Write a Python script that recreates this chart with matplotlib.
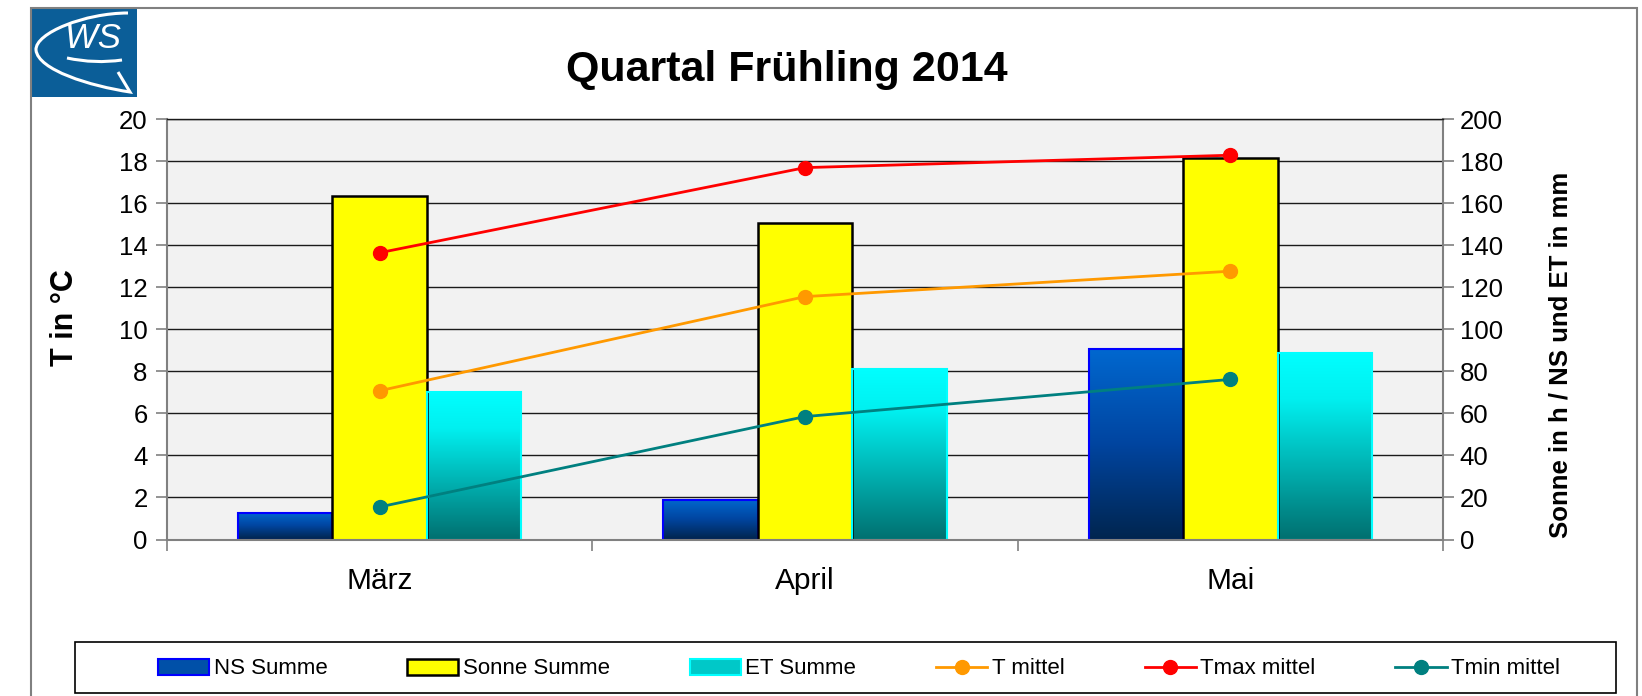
import numpy as np
import matplotlib
matplotlib.use('Agg')
import matplotlib.pyplot as plt
from matplotlib.colors import LinearSegmentedColormap
from matplotlib.patches import Rectangle, Patch, PathPatch
from matplotlib.path import Path

plt.rcParams['font.family'] = ['Liberation Sans', 'DejaVu Sans']

# data
months = ['März', 'April', 'Mai']
ns_summe = [12.8, 18.8, 90.5]        # mm
sonne_summe = [163.5, 150.6, 181.4]  # h
et_summe = [70.3, 81.0, 88.6]        # mm
t_mittel = [7.08, 11.56, 12.77]
tmax_mittel = [13.65, 17.7, 18.29]
tmin_mittel = [1.55, 5.85, 7.62]

W, H = 1642, 696
fig = plt.figure(figsize=(W / 100, H / 100), dpi=100)


def fx(px):
    return px / W


def fy(py):
    return 1 - py / H


# outer frame
fig.add_artist(Rectangle((fx(31), fy(700)), fx(1637) - fx(31), fy(8) - fy(700),
                         transform=fig.transFigure, fill=False,
                         edgecolor='#808080', lw=1.5))

ax = fig.add_axes([fx(167), fy(539.5), fx(1443) - fx(167), fy(119.3) - fy(539.5)])
ax2 = ax.twinx()
ax.set_zorder(ax2.get_zorder() + 1)
ax.patch.set_visible(False)
ax2.patch.set_visible(True)
ax2.patch.set_facecolor('#f2f2f2')

# bars (right scale)
x = np.arange(len(months))
w = 0.222
ns_cmap = LinearSegmentedColormap.from_list('ns', ['#00254f', '#0045a0', '#0068d0'])
et_cmap = LinearSegmentedColormap.from_list('et', [(0, '#007070'), (0.75, '#00f0f0'), (1, '#00ffff')])
grad = np.linspace(0, 1, 256).reshape(-1, 1)

bars_ns = ax2.bar(x - w, ns_summe, w, facecolor='none', edgecolor='#0000ff', lw=1.5, zorder=3)
bars_so = ax2.bar(x, sonne_summe, w, facecolor='#ffff00', edgecolor='black', lw=1.8, zorder=3)
bars_et = ax2.bar(x + w, et_summe, w, facecolor='none', edgecolor='#00ffff', lw=1.5, zorder=3)
for bars, cmap in [(bars_ns, ns_cmap), (bars_et, et_cmap)]:
    for r in bars:
        x0, h = r.get_x(), r.get_height()
        ax2.imshow(grad, extent=[x0, x0 + r.get_width(), 0, h], origin='lower',
                   aspect='auto', cmap=cmap, zorder=2.5, interpolation='bicubic')

ax2.set_ylim(0, 200)
ax2.set_yticks(range(0, 201, 20))
ax2.yaxis.grid(True, color='#1a1a1a', lw=1.0)
ax2.set_axisbelow(True)
ax2.tick_params(axis='y', length=8, direction='out', color='#808080', width=1.2,
                labelsize=18.5, pad=4)
for s in ax2.spines.values():
    s.set_visible(False)

# lines (left scale)
ax.plot(x, t_mittel, color='#ff9900', lw=2, marker='o', ms=10, label='T mittel')
ax.plot(x, tmax_mittel, color='#ff0000', lw=2, marker='o', ms=10, label='Tmax mittel')
ax.plot(x, tmin_mittel, color='#008080', lw=2, marker='o', ms=10, label='Tmin mittel')

ax.set_xlim(-0.5, 2.5)
ax.set_ylim(0, 20)
ax2.set_xlim(-0.5, 2.5)
ax.set_yticks(range(0, 21, 2))
ax.tick_params(axis='y', length=8, direction='out', color='#808080', width=1.2,
               labelsize=18.5, pad=6)
ax.set_xticks([-0.5, 0.5, 1.5, 2.5])
ax.set_xticklabels([])
ax.set_xticks(x, minor=True)
ax.set_xticklabels(months, minor=True)
ax.tick_params(axis='x', which='major', length=8, direction='out', color='#808080', width=1.2)
ax.tick_params(axis='x', which='minor', length=0, pad=20, labelsize=21.5)
for side in ['left', 'right', 'bottom']:
    ax.spines[side].set_color('#808080')
    ax.spines[side].set_linewidth(1.5)
ax.spines['top'].set_color('#1a1a1a')
ax.spines['top'].set_linewidth(1.0)

# texts
fig.text(fx(787), fy(81), 'Quartal Frühling 2014', ha='center', va='baseline',
         fontsize=31, fontweight='bold')
fig.text(fx(65), fy(318), 'T in °C', rotation=90, ha='center', va='center',
         fontsize=22, fontweight='bold')
fig.text(fx(1560), fy(355), 'Sonne in h / NS und ET in mm', rotation=90,
         ha='center', va='center', fontsize=18.5, fontweight='bold')

# legend
handles = [Patch(facecolor='#0050a8', edgecolor='#0000ff', lw=1.5, label='NS Summe'),
           Patch(facecolor='#ffff00', edgecolor='black', lw=1.8, label='Sonne Summe'),
           Patch(facecolor='#00c8c8', edgecolor='#00ffff', lw=1.5, label='ET Summe')]
lh, ll = ax.get_legend_handles_labels()
handles += lh
fig.legend(handles=handles, loc='center', bbox_to_anchor=(fx(859), fy(669)), ncol=6,
           frameon=False, fontsize=16, handlelength=2.3, handletextpad=0.2,
           columnspacing=3.6)
fig.add_artist(Rectangle((fx(75), fy(693)), fx(1616) - fx(75), fy(642) - fy(693),
                         transform=fig.transFigure, fill=False, edgecolor='black', lw=1.2))

# logo
lax = fig.add_axes([fx(30), fy(97), fx(137) - fx(30), fy(8) - fy(97)])
lax.set_xlim(0, 107)
lax.set_ylim(89, 0)
lax.set_facecolor('#0b5e98')
lax.set_xticks([])
lax.set_yticks([])
for s in lax.spines.values():
    s.set_visible(False)
lax.text(63, 31, 'WS', color='white', fontsize=25, ha='center', va='center', style='italic')
swoosh = Path([(98, 5), (55, 5), (5, 25), (6, 42), (8, 62), (60, 78), (100, 84),
               (88, 64), (37, 50), (65, 56), (92, 52)],
              [Path.MOVETO, Path.CURVE4, Path.CURVE4, Path.CURVE4, Path.CURVE4,
               Path.CURVE4, Path.CURVE4, Path.LINETO, Path.MOVETO, Path.CURVE3, Path.CURVE3])
lax.add_patch(PathPatch(swoosh, fill=False, edgecolor='white', lw=2.2))

fig.savefig('out.png', dpi=100)
